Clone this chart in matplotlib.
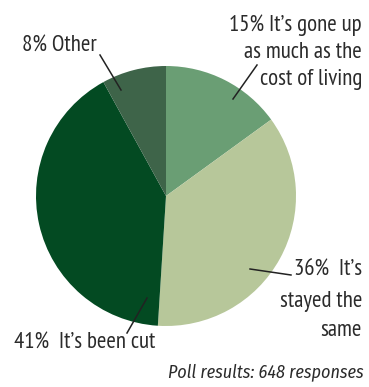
import matplotlib
matplotlib.use('Agg')
import matplotlib.pyplot as plt

plt.rcParams['font.family'] = ['PT Sans Narrow', 'DejaVu Sans']

# Data
labels = ["It's gone up as much as the cost of living", "It's stayed the same",
          "It's been cut", "Other"]
values = [15, 36, 41, 8]
colors = ['#6a9e74', '#b7c79a', '#034a22', '#3e6449']
note = 'Poll results: 648 responses'

W, H = 369, 387
fig = plt.figure(figsize=(W / 100, H / 100), dpi=100)
ax = fig.add_axes([0, 0, 1, 1])

cx, cy, r = 166, H - 196, 130
ax.pie(values, colors=colors, startangle=90, counterclock=False,
       center=(cx, cy), radius=r, frame=True,
       wedgeprops=dict(linewidth=0))
ax.set_xlim(0, W)
ax.set_ylim(0, H)
ax.set_aspect('equal')
ax.axis('off')

tc = '#2b2b2b'
fs = 16.5


def leader(x0, y0, x1, y1):
    ax.plot([x0, x1], [H - y0, H - y1], color='#222222', lw=1.1)


def label(x, y, s, ha):
    ax.text(x, H - y, s, ha=ha, va='center', fontsize=fs, color=tc)


# 15%
label(362, 25, "15% It\u2019s gone up", 'right')
label(362, 53, "as much as the", 'right')
label(362, 80, "cost of living", 'right')
leader(257, 65, 233, 99)

# 8%
label(22, 45, "8% Other", 'left')
leader(100, 55, 121, 90)

# 36%
label(362, 270, "36%  It\u2019s", 'right')
label(362, 302, "stayed the", 'right')
label(362, 330, "same", 'right')
leader(250, 269, 291, 275)

# 41%
label(14, 342, "41%  It\u2019s been cut", 'left')
leader(147, 298, 127, 333)

ax.text(364, H - 372, note, ha='right', va='center', fontsize=13,
        style='italic', color=tc, family=['Fira Sans Condensed', 'DejaVu Sans'])

fig.savefig('out.png', dpi=100)
